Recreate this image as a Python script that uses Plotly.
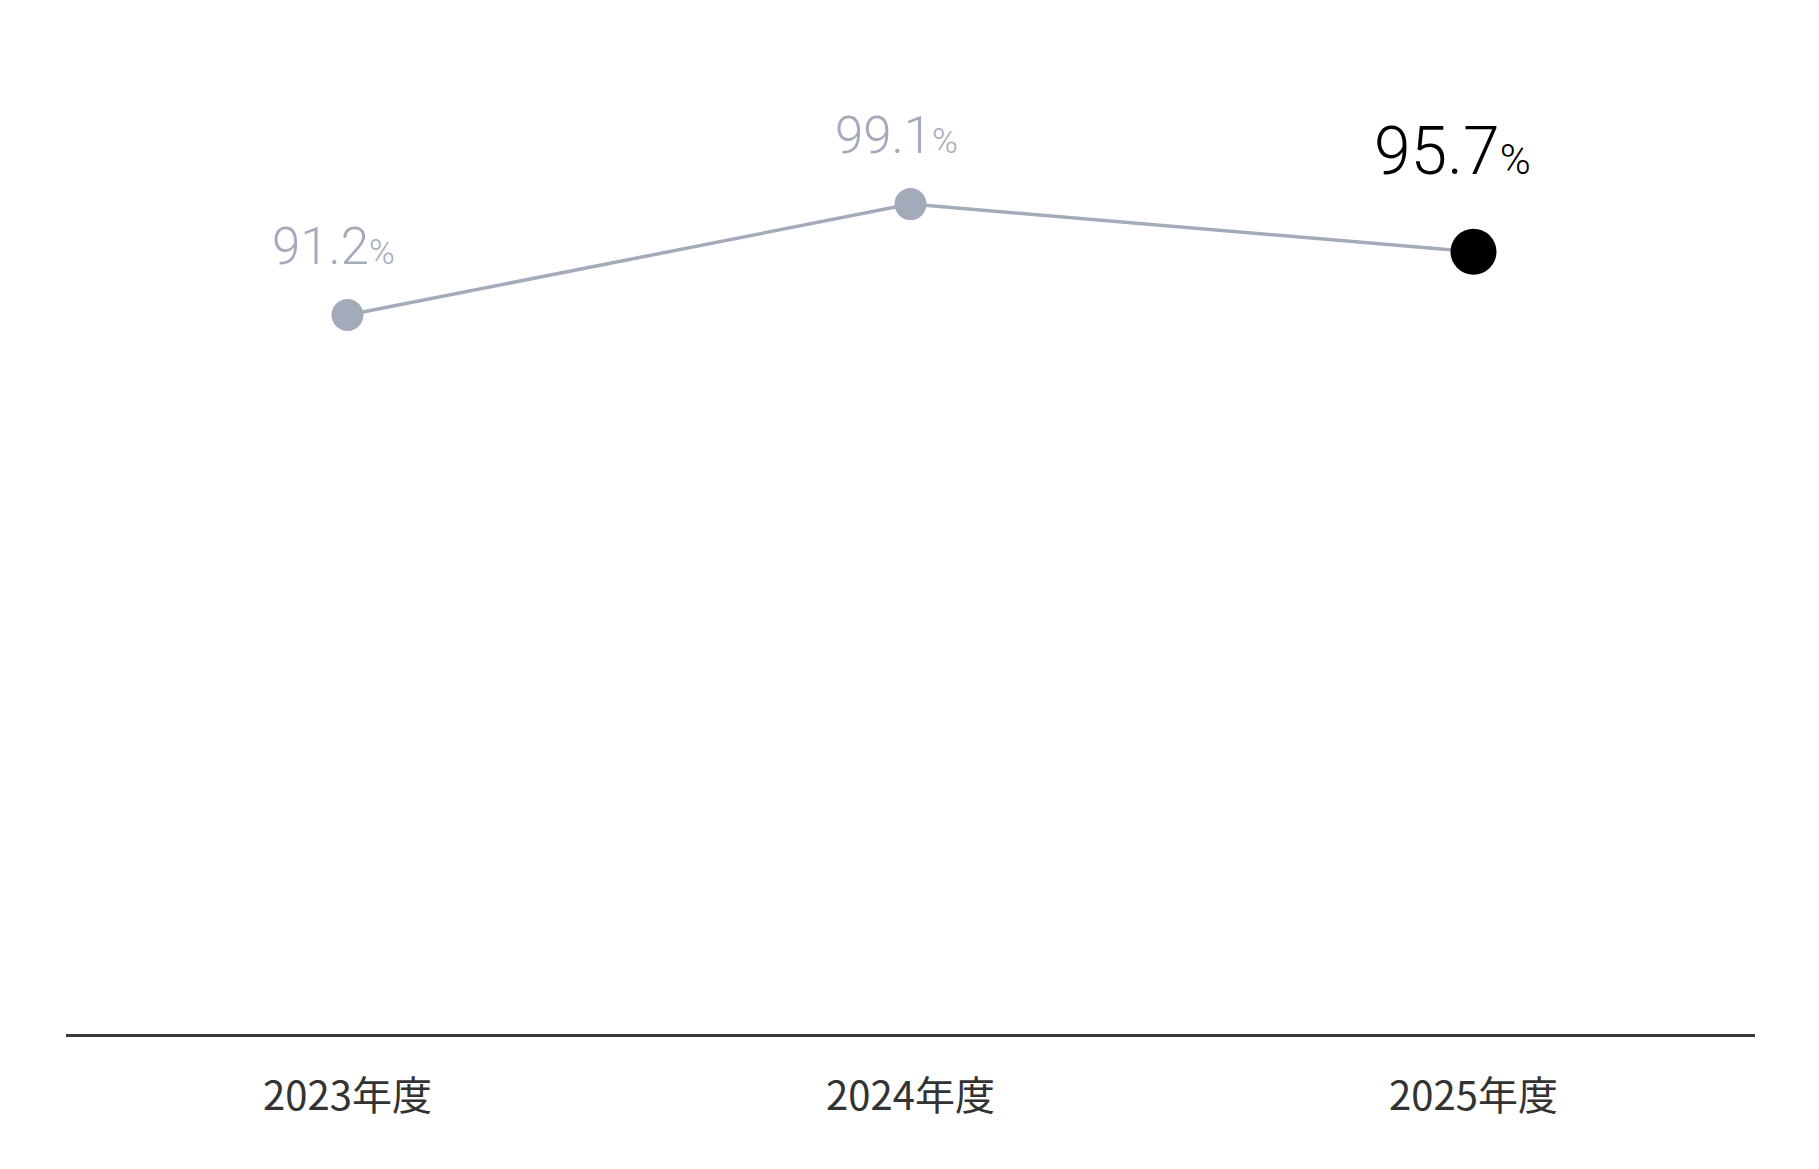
import plotly.graph_objects as go

years = ["2023年度", "2024年度", "2025年度"]
rates = [91.2, 99.1, 95.7]
highlight = [False, False, True]

gray = "#a3abbb"
fnt = "Roboto, 'Noto Sans CJK JP', sans-serif"

fig = go.Figure()

# connecting line
fig.add_trace(go.Scatter(
    x=years, y=rates, mode="lines",
    line=dict(color=gray, width=3.5),
    hoverinfo="skip", showlegend=False,
))

# markers, latest year highlighted in black
fig.add_trace(go.Scatter(
    x=years, y=rates, mode="markers",
    marker=dict(
        color=["#000000" if h else gray for h in highlight],
        size=[46 if h else 32 for h in highlight],
        opacity=1,
        line=dict(width=0),
    ),
    showlegend=False,
))

for yr, v, h in zip(years, rates, highlight):
    if h:
        txt = f"{v:.1f}<span style='font-size:42px'>%</span>"
        fig.add_annotation(x=yr, y=v, text=txt, showarrow=False,
                           yanchor="bottom", yshift=60, xshift=-21,
                           font=dict(family=fnt, size=66, color="#000000", weight=300))
    else:
        txt = f"{v:.1f}<span style='font-size:35px'>%</span>"
        fig.add_annotation(x=yr, y=v, text=txt, showarrow=False,
                           yanchor="bottom", yshift=37, xshift=-14,
                           font=dict(family=fnt, size=51, color=gray, weight=300))

fig.update_layout(
    width=1819, height=1169,
    margin=dict(l=58, r=72, t=43, b=143),
    paper_bgcolor="white", plot_bgcolor="white",
    font=dict(family=fnt),
)
fig.update_xaxes(
    type="category", range=[-0.5, 2.5],
    showgrid=False, zeroline=False,
    showline=True, linecolor="#3a3a3a", linewidth=3,
    ticks="", ticklabelstandoff=25,
    tickfont=dict(size=40, color="#333333", family="'Noto Sans CJK JP', Roboto, sans-serif"),
)
fig.update_yaxes(range=[40, 110], visible=False, showgrid=False, zeroline=False)

fig.write_html("out.html")
